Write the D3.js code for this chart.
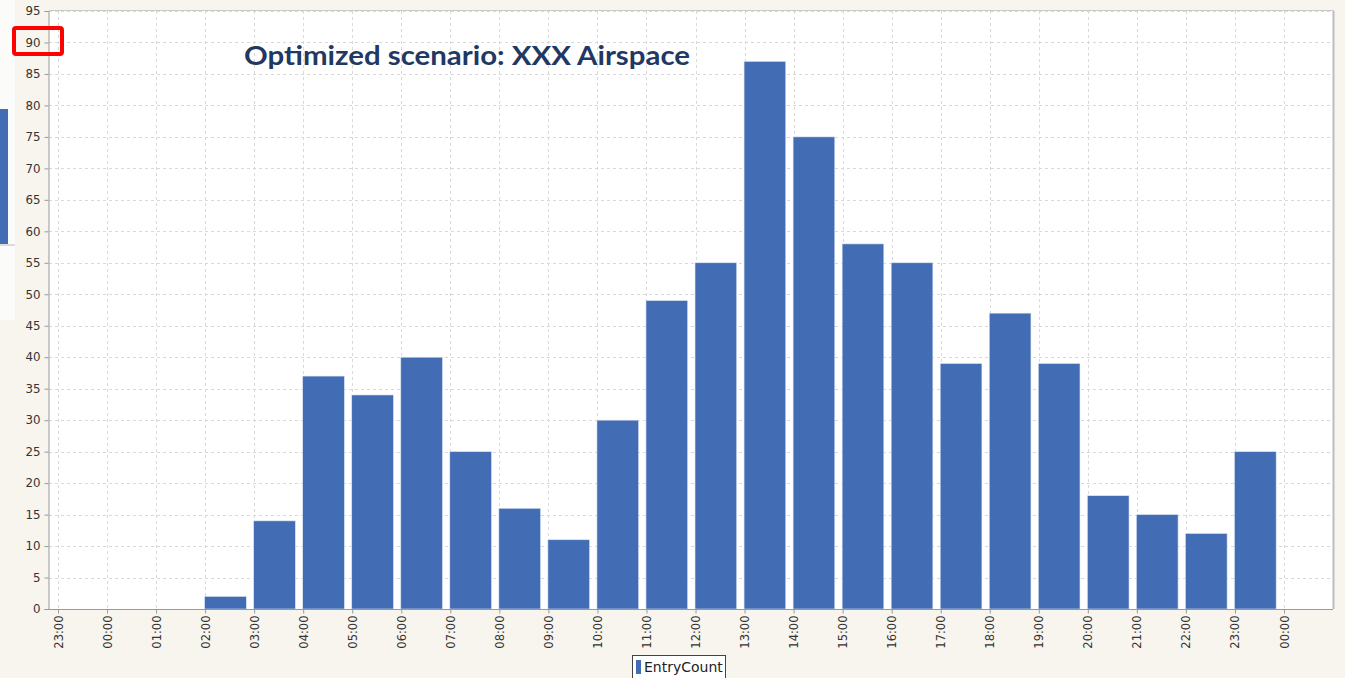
<!DOCTYPE html>
<html>
<head>
<meta charset="utf-8">
<script src="https://cdn.jsdelivr.net/npm/d3@7"></script>
<style>
  html, body { margin: 0; padding: 0; background: #f7f5ee; }
  svg { display: block; }
</style>
</head>
<body>
<svg id="chart" width="1345" height="678"></svg>
<script>
// Hourly entry counts, one bin per hour starting at the listed time
const binStarts = ["23:00","00:00","01:00","02:00","03:00","04:00","05:00","06:00","07:00","08:00",
  "09:00","10:00","11:00","12:00","13:00","14:00","15:00","16:00","17:00","18:00",
  "19:00","20:00","21:00","22:00","23:00"];
const entryCount = [0,0,0,2,14,37,34,40,25,16,11,30,49,55,87,75,58,55,39,47,39,18,15,12,25];
// Axis tick labels (bin edges)
const tickLabels = binStarts.concat(["00:00"]);
const yTicks = d3.range(0, 96, 5);

const svg = d3.select("#chart");
const plot = { left: 49, right: 1333, top: 11, bottom: 609 };
const barColor = "#426cb4";

// Side panel strip at the left edge
svg.append("rect").attr("x", 0).attr("y", 0).attr("width", 15).attr("height", 320).attr("fill", "#fbfbfa");
svg.append("rect").attr("x", 0).attr("y", 109).attr("width", 8).attr("height", 135).attr("fill", barColor);
svg.append("line").attr("x1", 0).attr("x2", 15).attr("y1", 245).attr("y2", 245).attr("stroke", "#bbb");

// Plot background
svg.append("rect")
  .attr("x", plot.left).attr("y", plot.top)
  .attr("width", plot.right - plot.left).attr("height", plot.bottom - plot.top)
  .attr("fill", "#ffffff");

const x = d3.scalePoint().domain(tickLabels.map((d, i) => i)).range([58, 1284]);
const y = d3.scaleLinear().domain([0, 95]).range([plot.bottom, plot.top]);

// Gridlines
const grid = svg.append("g").attr("stroke", "#d9d9d9").attr("stroke-dasharray", "3,3").attr("stroke-width", 1);
grid.selectAll(".gy").data(yTicks.slice(1)).join("line")
  .attr("x1", plot.left).attr("x2", plot.right)
  .attr("y1", d => Math.round(y(d)) + 0.5).attr("y2", d => Math.round(y(d)) + 0.5);
grid.selectAll(".gx").data(tickLabels.map((d, i) => i)).join("line")
  .attr("x1", d => Math.round(x(d)) + 0.5).attr("x2", d => Math.round(x(d)) + 0.5)
  .attr("y1", plot.top).attr("y2", plot.bottom);

// Bars
const step = x.step();
const barW = step * 0.85;
svg.append("g").selectAll("rect").data(entryCount).join("rect")
  .attr("x", (d, i) => x(i) - 0.5)
  .attr("y", d => y(d))
  .attr("width", barW)
  .attr("height", d => plot.bottom - y(d))
  .attr("fill", barColor)
  .attr("stroke", "#dbe4f3").attr("stroke-width", 0.6);

// Plot frame (top/right)
svg.append("line").attr("x1", plot.left).attr("x2", plot.right + 1).attr("y1", plot.top - 0.5).attr("y2", plot.top - 0.5).attr("stroke", "#c9c9c9");
svg.append("line").attr("x1", plot.right + 0.5).attr("x2", plot.right + 0.5).attr("y1", plot.top).attr("y2", plot.bottom).attr("stroke", "#bdbdbd").attr("stroke-width", 2);

// Y axis
const yAxis = svg.append("g").attr("transform", `translate(${plot.left - 0.5},0)`)
  .call(d3.axisLeft(y).tickValues(yTicks).tickSize(4).tickPadding(4));
yAxis.select(".domain").attr("stroke", "#999");
yAxis.selectAll(".tick line").attr("stroke", "#999");
yAxis.selectAll("text").attr("font-family", "DejaVu Sans, sans-serif").attr("font-size", 11.8).attr("fill", "#333");

// X axis
const xAxis = svg.append("g").attr("transform", `translate(0,${plot.bottom + 0.5})`)
  .call(d3.axisBottom(x).tickFormat(i => tickLabels[i]).tickSize(4).tickSizeOuter(0));
xAxis.select(".domain").attr("stroke", "#999").attr("d", `M${plot.left},0H${plot.right}`);
xAxis.selectAll(".tick line").attr("stroke", "#999");
xAxis.selectAll("text")
  .attr("font-family", "DejaVu Sans, sans-serif").attr("font-size", 11.5).attr("fill", "#333")
  .attr("transform", "rotate(-90)")
  .attr("text-anchor", "end")
  .attr("x", -6).attr("y", 0).attr("dy", "0.35em");

// Title
svg.append("text")
  .attr("x", 244).attr("y", 65)
  .attr("font-family", "Lato, sans-serif").attr("font-weight", 700).attr("font-size", 27.5)
  .attr("fill", "#1f3864")
  .attr("textLength", 446).attr("lengthAdjust", "spacingAndGlyphs")
  .text("Optimized scenario: XXX Airspace");

// Highlight box around the 90 label
svg.append("rect").attr("x", 14).attr("y", 28).attr("width", 48).attr("height", 26)
  .attr("fill", "none").attr("stroke", "#ff0000").attr("stroke-width", 4).attr("rx", 2);

// Legend
const lg = svg.append("g").attr("transform", "translate(632,655)");
lg.append("rect").attr("x", 0.5).attr("y", 0.5).attr("width", 93).attr("height", 30)
  .attr("fill", "#fff").attr("stroke", "#444");
lg.append("rect").attr("x", 4).attr("y", 5).attr("width", 5).attr("height", 14).attr("fill", barColor);
lg.append("text").attr("x", 12).attr("y", 17)
  .attr("font-family", "DejaVu Sans, sans-serif").attr("font-size", 14).attr("fill", "#222")
  .text("EntryCount");
</script>
</body>
</html>
